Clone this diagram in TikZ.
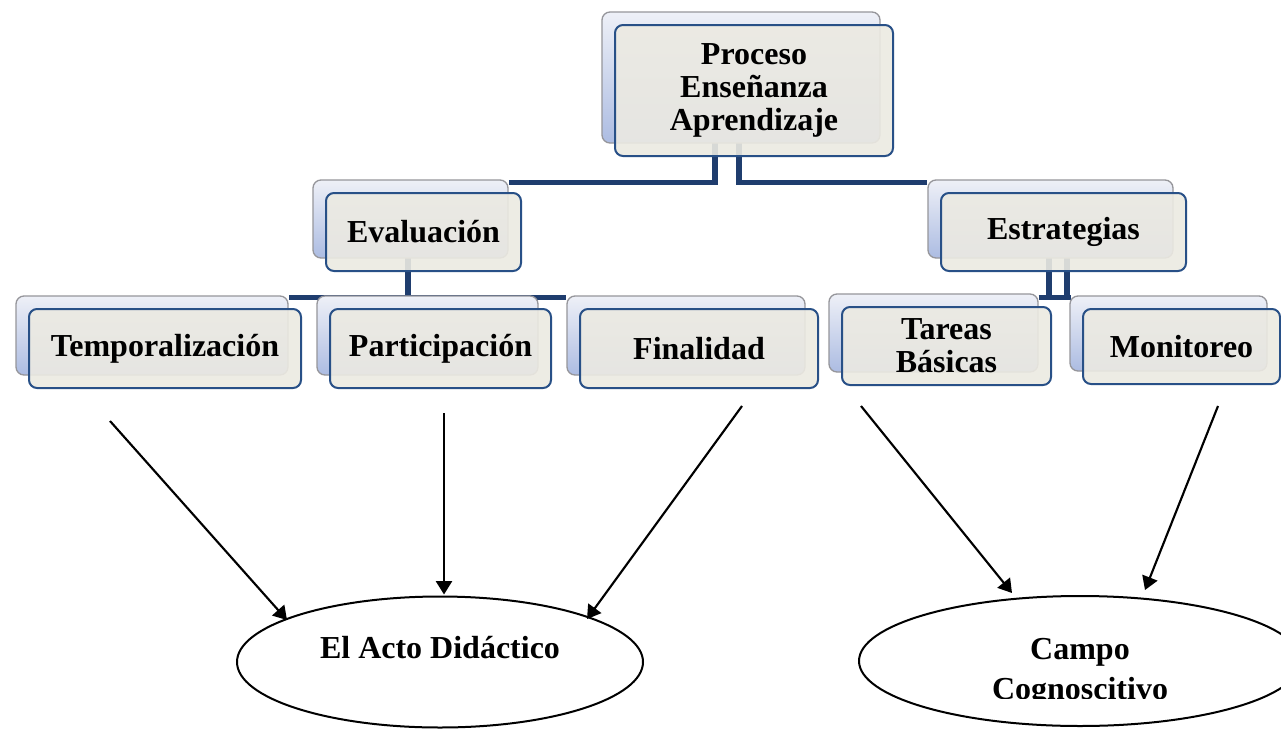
\documentclass[tikz,border=0pt]{standalone}
\usepackage{fontspec}
\setmainfont{Liberation Serif}
\usetikzlibrary{shapes.geometric,arrows.meta,calc}
\definecolor{navy}{RGB}{31,61,110}
\definecolor{bordblue}{RGB}{40,80,135}
\definecolor{beige}{RGB}{236,234,226}
\definecolor{backtop}{RGB}{238,240,247}
\definecolor{backbot}{RGB}{172,188,226}
\definecolor{backrim}{RGB}{150,150,155}
\pgfdeclarelayer{bg}
\pgfsetlayers{bg,main}
\tikzset{
 boxfront/.style={draw=bordblue, line width=1.5pt, fill=beige, fill opacity=0.9, text opacity=1, rounded corners=6pt, inner sep=0pt, font=\bfseries\fontsize{24}{24.75}\selectfont, align=center},
 boxback/.style={draw=backrim, line width=1pt, top color=backtop, bottom color=backbot, rounded corners=6pt, inner sep=0pt},
 conn/.style={draw=navy, line width=4pt, line join=miter},
 arr/.style={draw=black, line width=1.6pt, -{Stealth[length=10pt,width=12pt,inset=0pt]}},
 oval/.style={ellipse, draw=black, line width=1.5pt, inner sep=0pt},
 lbl/.style={font=\bfseries\fontsize{24}{30}\selectfont, align=center, inner sep=0pt},
}
\newcommand\duo[6]{%
 \node[boxback, minimum width={(#4-#2)*0.75pt}, minimum height={(#5-#3)*0.75pt}] (#1B) at ({(#2+#4)/2-13},{(#3+#5)/2-13}) {};
 \node[boxfront, minimum width={(#4-#2)*0.75pt}, minimum height={(#5-#3)*0.75pt}] (#1) at ({(#2+#4)/2},{(#3+#5)/2}) {#6};
}
\begin{document}
\begin{tikzpicture}[x=0.75pt,y=-0.75pt]
\clip (0,0) rectangle (1281,728);
\duo{proc}{615}{25}{893}{156}{Proceso\\Enseñanza\\Aprendizaje}
\duo{eval}{326}{193}{521}{271}{Evaluación}
\duo{estr}{941}{193}{1186}{271}{Estrategias}
\duo{temp}{29}{309}{301}{388}{Temporalización}
\duo{part}{330}{309}{551}{388}{Participación}
\duo{fina}{580}{309}{818}{388}{Finalidad}
\duo{tare}{842}{307}{1051}{385}{Tareas\\Básicas}
\duo{moni}{1083}{309}{1280}{384}{Monitoreo}

\node[oval, minimum width=304.5pt, minimum height=98.25pt] (acto) at (440,662) {};
\node[lbl] (actot) at ($(acto)+(0,-14)$) {El Acto Didáctico};
\node[oval, minimum width=331.5pt, minimum height=97.5pt] (campo) at (1080,661) {};
\begin{scope}
\clip (850,600) rectangle (1281,698);
\node[lbl] (campot) at ($(campo)+(0,11)$) {Campo\\Cognoscitivo};
\end{scope}

\begin{pgfonlayer}{bg}
\fill[white] (0,0) rectangle (1281,728);
\draw[conn] ($(proc.south)+(-39,-20)$) |- ($(evalB.north east)+(0,3)$);
\draw[conn] ($(proc.south)+(-15,-20)$) |- ($(estrB.north west)+(0,3)$);
\draw[conn] ($(eval.south)+(-15.5,-20)$) |- ($(tempB.north east)+(0,2)$);
\draw[conn] ($(eval.south)+(-15.5,-20)$) |- ($(finaB.north west)+(0,2)$);
\draw[conn] ($(tareB.north east)+(0,4)$) -- ($(moniB.north west)+(2,2)$);
\draw[conn] ($(estr.south)+(-14.5,-20)$) -- ++(0,47);
\draw[conn] ($(estr.south)+(3.5,-20)$) -- ++(0,47);
\end{pgfonlayer}

\draw[arr] ($(temp.south)+(-55,32)$) -- ($(acto)+(-153,-42)$);
\draw[arr] ($(part.south)+(3.5,24)$) -- ($(acto.north)+(4,-1)$);
\draw[arr] ($(fina.south)+(43,17)$) -- ($(acto)+(147,-43)$);
\draw[arr] ($(tare.south)+(-85.5,20)$) -- ($(campo)+(-68,-68)$);
\draw[arr] ($(moni.south)+(36.5,21)$) -- ($(campo)+(65,-71)$);
\end{tikzpicture}
\end{document}
